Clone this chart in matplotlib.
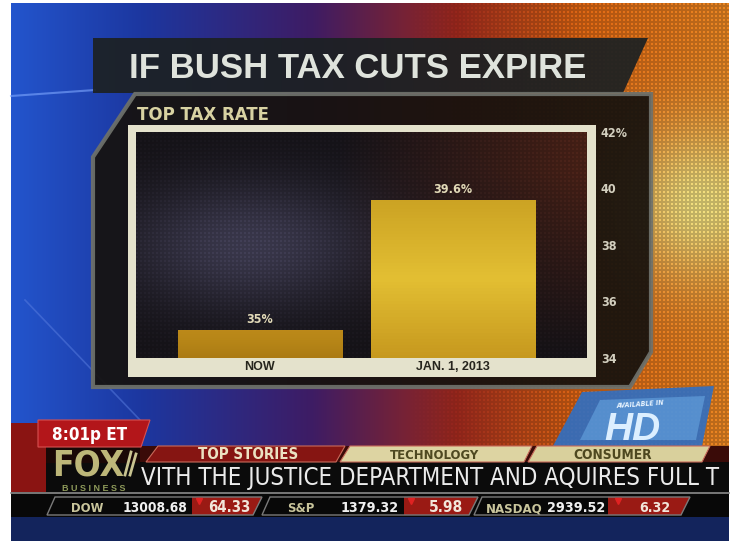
import numpy as np
import matplotlib.pyplot as plt
from matplotlib.patches import Polygon, Rectangle

# chart data
periods = ["NOW", "JAN. 1, 2013"]
rates = [35.0, 39.6]
rate_labels = ["35%", "39.6%"]
y_ticks = [34, 36, 38, 40, 42]
y_tick_labels = ["34", "36", "38", "40", "42%"]

# on-screen ticker text
tabs = ["TOP STORIES", "TECHNOLOGY", "CONSUMER"]
crawl = "VITH THE JUSTICE DEPARTMENT AND AQUIRES FULL T"
index_names = ["DOW", "S&P", "NASDAQ"]
index_values = ["13008.68", "1379.32", "2939.52"]
index_changes = ["64.33", "5.98", "6.32"]

COND = dict(family="DejaVu Sans", fontstretch="condensed")
REG = dict(family=["Liberation Sans", "DejaVu Sans"])

fig = plt.figure(figsize=(7.36, 5.42), dpi=100, facecolor="white")
bg = fig.add_axes([0, 0, 1, 1])
bg.set_xlim(0, 736)
bg.set_ylim(542, 0)
bg.axis("off")
renderer = fig.canvas.get_renderer()


def poly(pts, **kw):
    bg.add_patch(Polygon(pts, closed=True, **kw))


def fit(t, width):
    # shrink a text until it is no wider than width pixels
    w = t.get_window_extent(renderer).width
    if w > width:
        t.set_fontsize(t.get_fontsize() * width / w)
    return t


# studio background: blue on the left, orange on the right
yy, xx = np.mgrid[0:538, 0:718]
u = xx / 717.0
stops = [0, 0.18, 0.42, 0.62, 0.8, 1.0]
img = np.dstack([
    np.interp(u, stops, [35, 28, 62, 150, 225, 235]),
    np.interp(u, stops, [85, 55, 28, 38, 105, 135]),
    np.interp(u, stops, [205, 160, 100, 28, 20, 35]),
]) / 255.0
d2 = ((xx - 690) ** 2 + (yy - 200) ** 2) / (2 * 55.0 ** 2)
w = np.exp(-d2)[..., None]
img = img * (1 - w) + np.array([0.95, 0.88, 0.5]) * w
dots = ((xx % 4 < 2) & (yy % 4 < 2)).astype(float)
ramp = np.clip((u - 0.55) / 0.2, 0, 1)
shade = 1 - 0.2 * ramp * (1 - dots)
img = np.clip(img * shade[..., None], 0, 1)
bg.imshow(img, extent=(11, 729, 541, 3), aspect="auto", zorder=0)

# light streaks on the blue side
bg.plot([11, 95], [96, 90], color="#7fa8ff", lw=1.5, alpha=0.6, zorder=1)
bg.plot([25, 140], [300, 420], color="#5a7ee0", lw=1.2, alpha=0.5, zorder=1)

# title banner
poly([(93, 38), (648, 38), (623, 93), (93, 93)], facecolor="#1c2123", alpha=0.93, zorder=2)
fit(bg.text(358, 78, "IF BUSH TAX CUTS EXPIRE", **REG, fontweight="bold", fontsize=25,
            color="#dfe3dc", ha="center", va="baseline", zorder=3), 462)

# chart panel
poly([(135, 94), (651, 94), (651, 352), (630, 387), (93, 387), (93, 157)],
     facecolor="#16120e", edgecolor="#6e716b", lw=3, alpha=0.93, zorder=2)
fit(bg.text(137, 120, "TOP TAX RATE", **COND, fontweight="bold", fontsize=15,
            color="#d8d2a2", ha="left", va="baseline", zorder=3), 132)
bg.add_patch(Rectangle((128, 125), 468, 252, facecolor="#e4e2cc", zorder=3))

# bar chart
ax = fig.add_axes([136 / 736, 1 - 358 / 542, 451 / 736, 226 / 542])
ax.set_zorder(1)
x = np.arange(len(periods))
xlim = (-0.642, 1.695)
ylim = (34, 42)

gy, gx = np.mgrid[0:226, 0:451]
gu = gx / 450.0
gv = gy / 225.0
blue = np.exp(-((gu - 0.25) ** 2 + (gv - 0.5) ** 2) / 0.08)[..., None]
brown = np.clip((gu - 0.45) * 1.6, 0, 1)[..., None] * np.clip(gv * 1.2, 0, 1)[..., None]
pbg = np.array([0.09, 0.08, 0.1]) + blue * np.array([0.17, 0.17, 0.24]) + brown * np.array([0.25, 0.07, 0.0])
mesh = ((gx % 4 < 2) & (gy % 4 < 2)).astype(float)
pbg = pbg * (0.85 + 0.15 * mesh)[..., None]
ax.imshow(np.clip(pbg, 0, 1), extent=(*xlim, *ylim[::-1]), aspect="auto", zorder=0)

bars = ax.bar(x, [r - 34 for r in rates], bottom=34, width=0.85,
              color=["#b98a1c", "#d8b02c"], zorder=2)
ramps = [
    [[0.74, 0.54, 0.1], [0.71, 0.52, 0.09], [0.67, 0.48, 0.08]],
    [[0.8, 0.64, 0.14], [0.89, 0.75, 0.2], [0.78, 0.6, 0.12]],
]
for bar, rp in zip(bars, ramps):
    col = np.array(rp)
    t = np.linspace(0, 1, 50)
    grad = np.dstack([np.interp(t, [0, 0.5, 1], col[:, k]) for k in range(3)]).reshape(50, 1, 3)
    x0 = bar.get_x()
    im = ax.imshow(grad, extent=(x0, x0 + bar.get_width(), 34, 34 + bar.get_height()),
                   aspect="auto", zorder=2.5)
    im.set_clip_path(bar)

for xi, r, lab in zip(x, rates, rate_labels):
    ax.annotate(lab, (xi, r), xytext=(0, 3), textcoords="offset points", ha="center",
                va="bottom", **COND, fontweight="bold", fontsize=9, color="#e2dab8", zorder=4)

ax.set_xlim(*xlim)
ax.set_ylim(*ylim)
ax.set_xticks(x)
ax.set_xticklabels(periods, **REG, fontweight="bold", fontsize=9, color="#26251d")
ax.set_yticks(y_ticks)
ax.set_yticklabels(y_tick_labels, **COND, fontweight="bold", fontsize=9, color="#d3cfbf")
ax.yaxis.tick_right()
ax.tick_params(axis="x", length=0, pad=2.5)
ax.tick_params(axis="y", length=0, pad=10)
for s in ax.spines.values():
    s.set_visible(False)

# HD badge
poly([(582, 392), (714, 386), (702, 446), (553, 446)], facecolor="#2f6fc4", alpha=0.9, zorder=2)
poly([(600, 400), (705, 396), (696, 440), (580, 440)], facecolor="#6fb0ea", alpha=0.5, zorder=2)
bg.text(640, 404, "AVAILABLE IN", **COND, fontsize=5, fontweight="bold", fontstyle="italic",
        color="#e8f4ff", ha="center", va="center", rotation=4, zorder=3)
bg.text(632, 430, "HD", **REG, fontsize=28, fontweight="bold", fontstyle="italic",
        color="#dcefff", ha="center", va="center", zorder=3)

# lower third
bg.add_patch(Rectangle((11, 423), 35, 70, facecolor="#8a1412", zorder=2))
bg.add_patch(Rectangle((140, 446), 589, 17, facecolor="#3a0b08", zorder=2))
poly([(38, 420), (150, 420), (141, 447), (38, 447)], facecolor="#b3161a", edgecolor="#d85050", lw=0.8, zorder=3)
fit(bg.text(90, 440, "8:01p ET", **COND, fontweight="bold", fontsize=14, color="white",
            ha="center", va="baseline", zorder=4), 76)

tab_shapes = [
    [(146, 462), (158, 446), (345, 446), (336, 462)],
    [(340, 462), (350, 446), (532, 446), (524, 462)],
    [(528, 462), (537, 446), (710, 446), (702, 462)],
]
tab_fill = ["#861512", "#ddd4a2", "#d9d09c"]
tab_text = ["#ece2c2", "#4e4820", "#4e4820"]
tab_cx = [248, 435, 613]
tab_w = [100, 88, 78]
for shape, lab, fc, tc, cx, tw in zip(tab_shapes, tabs, tab_fill, tab_text, tab_cx, tab_w):
    poly(shape, facecolor=fc, edgecolor="#c86a5a", lw=0.8, zorder=3)
    fit(bg.text(cx, 459, lab, **COND, fontweight="bold", fontsize=11, color=tc,
                ha="center", va="baseline", zorder=4), tw)

bg.add_patch(Rectangle((46, 462), 683, 30, facecolor="#0b0b0b", zorder=2))
bg.add_patch(Rectangle((46, 446), 94, 17, facecolor="#1a0806", zorder=2))
fit(bg.text(141, 485, crawl, **COND, fontsize=18, color="#ebebeb",
            ha="left", va="baseline", zorder=4), 577)
fit(bg.text(52, 476, "FOX", **COND, fontweight="bold", fontsize=29, color="#bdb779",
            ha="left", va="baseline", zorder=5), 72)
bg.plot([125, 131], [475, 452], color="#c8c490", lw=2, zorder=5)
bg.plot([130, 136], [475, 454], color="#c8c490", lw=2, zorder=5)
fit(bg.text(94, 491, "B U S I N E S S", **REG, fontweight="bold", fontsize=6.5,
            color="#8e9a5a", ha="center", va="baseline", zorder=5), 84)

# index row
bg.add_patch(Rectangle((11, 492), 718, 25, facecolor="#080808", zorder=2))
bg.plot([11, 729], [492.5, 492.5], color="#8c8c8c", lw=1.2, zorder=3)
bg.add_patch(Rectangle((11, 517), 718, 24, facecolor="#13245c", zorder=2))

seg_x = [(55, 262), (270, 478), (482, 690)]
red_x = [192, 404, 608]
name_cx = [87, 301, 514]
name_w = [32, 27, 56]
value_cx = [155, 370, 576]
value_w = [64, 58, 58]
tri_x = [199, 411, 618]
change_cx = [229, 446, 655]
change_w = [42, 34, 31]
for i in range(len(index_names)):
    a, b = seg_x[i]
    poly([(red_x[i], 515), (red_x[i], 497), (b, 497), (b - 9, 515)], facecolor="#9a1a14", zorder=3)
    poly([(a - 8, 515), (a, 497), (b, 497), (b - 9, 515)], fill=False, edgecolor="#7a7a7a", lw=1, zorder=4)
    fit(bg.text(name_cx[i], 512, index_names[i], **COND, fontweight="bold", fontsize=13,
                color="#c9c59c", ha="center", va="baseline", zorder=5), name_w[i])
    fit(bg.text(value_cx[i], 512, index_values[i], **COND, fontweight="bold", fontsize=13,
                color="#f0f0f0", ha="center", va="baseline", zorder=5), value_w[i])
    bg.plot(tri_x[i], 501, marker="v", ms=4, color="#e02222", zorder=5)
    fit(bg.text(change_cx[i], 512, index_changes[i], **COND, fontweight="bold", fontsize=13,
                color="#f2e6da", ha="center", va="baseline", zorder=5), change_w[i])

fig.savefig("out.png", dpi=100, facecolor="white")
